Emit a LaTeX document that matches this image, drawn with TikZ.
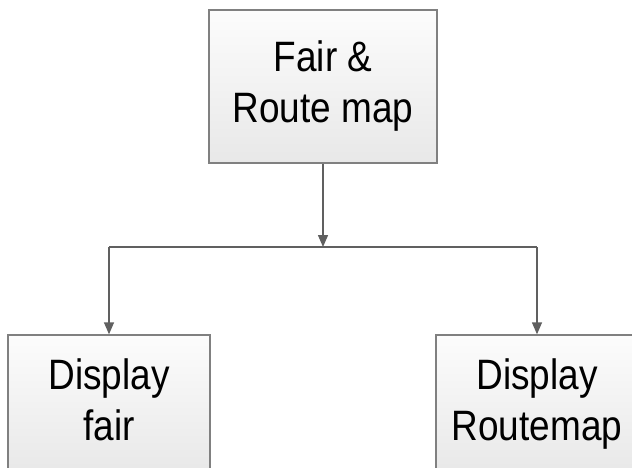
\documentclass[tikz,border=0pt]{standalone}
\usepackage{fontspec}
\setmainfont[FakeStretch=0.87]{Liberation Sans}
\usetikzlibrary{arrows.meta}
\definecolor{boxline}{RGB}{128,128,128}
\definecolor{boxtop}{RGB}{252,252,252}
\definecolor{boxbot}{RGB}{232,232,232}
\definecolor{arrowc}{RGB}{96,96,96}
\newcommand{\boxtext}[1]{\begin{tabular}{@{}c@{}}#1\end{tabular}}
\tikzset{
  box/.style={draw=boxline, line width=1.4pt, top color=boxtop, bottom color=boxbot,
    minimum width=202pt, minimum height=139pt, inner sep=0pt,
    font=\fontsize{42.5}{51}\selectfont},
  topbox/.style={box, minimum width=228pt, minimum height=153pt},
  conn/.style={draw=arrowc, line width=1.4pt},
  arr/.style={conn, -{Triangle[length=12pt,width=10pt]}}
}
\begin{document}
\begin{tikzpicture}[x=1pt,y=-1pt]
\useasboundingbox (0,0) rectangle (632,467);
\clip (0,0) rectangle (632,467);
\node[topbox] (top) at (323,86.5) {\boxtext{Fair \&\\Route map}};
\node[box] (left) at (109,404.5) {\boxtext{Display\\fair}};
\node[box] (right) at (537,404.5) {\boxtext{Display\\Routemap}};
\coordinate (j) at (323,247);
\draw[arr] (top.south) -- (j);
\draw[conn] (left.north |- j) -- (right.north |- j);
\draw[arr] (left.north |- j) -- (left.north);
\draw[arr] (right.north |- j) -- (right.north);
\end{tikzpicture}
\end{document}
